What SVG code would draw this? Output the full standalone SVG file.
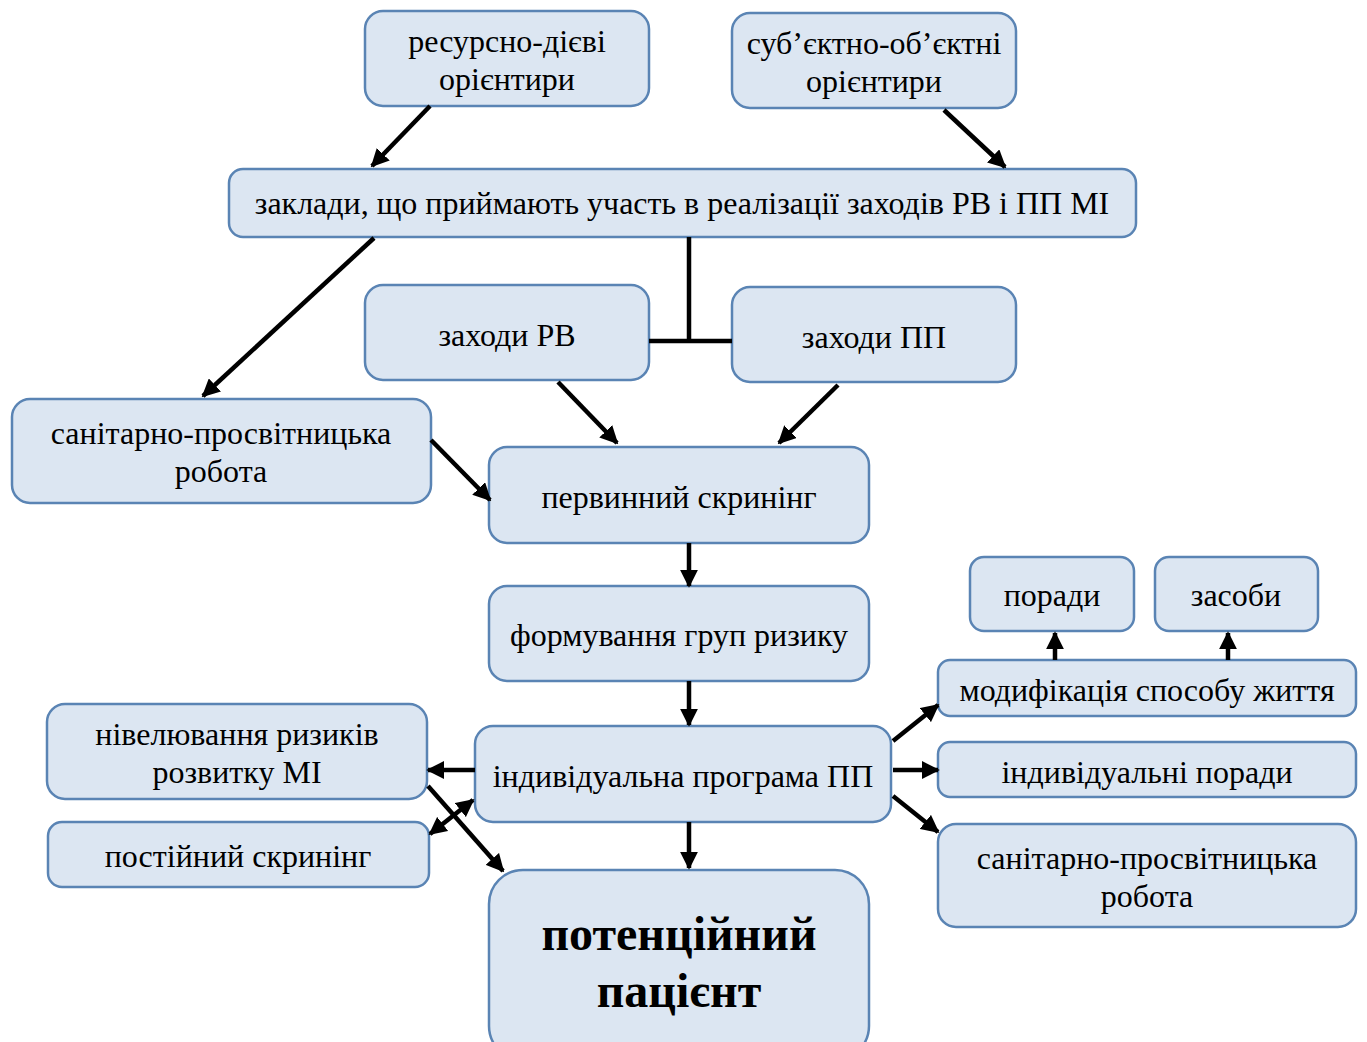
<svg xmlns="http://www.w3.org/2000/svg" width="1367" height="1042" viewBox="0 0 1367 1042">
<style>
.box{fill:#dce6f2;stroke:#5a84b4;stroke-width:2.5}
text{font-family:"Liberation Serif","Times New Roman",serif;font-size:32px;fill:#000;text-anchor:middle}
.big{font-size:48px;font-weight:bold}
.c{stroke:#000;stroke-width:4.5;fill:none}
</style>
<defs>
<marker id="ah" viewBox="0 0 10 10" refX="9" refY="5" markerWidth="4" markerHeight="4" orient="auto-start-reverse" markerUnits="strokeWidth">
<path d="M0,0 L10,5 L0,10 z" fill="#000"/>
</marker>
</defs>
<rect width="1367" height="1042" fill="#fff"/>
<g id="n1"><rect class="box" x="365" y="11" width="284" height="95" rx="18"/><text x="507" y="52">ресурсно-дієві</text><text x="507" y="90">орієнтири</text></g>
<g id="n2"><rect class="box" x="732" y="13" width="284" height="95" rx="18"/><text x="874" y="54">суб’єктно-об’єктні</text><text x="874" y="92">орієнтири</text></g>
<g id="n3"><rect class="box" x="229" y="169" width="907" height="68" rx="14"/><text x="682" y="214">заклади, що приймають участь в реалізації заходів РВ і ПП МІ</text></g>
<g id="n4"><rect class="box" x="365" y="285" width="284" height="95" rx="18"/><text x="507" y="346">заходи РВ</text></g>
<g id="n5"><rect class="box" x="732" y="287" width="284" height="95" rx="18"/><text x="874" y="348">заходи ПП</text></g>
<g id="n6"><rect class="box" x="12" y="399" width="419" height="104" rx="18"/><text x="221" y="444">санітарно-просвітницька</text><text x="221" y="482">робота</text></g>
<g id="n7"><rect class="box" x="489" y="447" width="380" height="96" rx="18"/><text x="679" y="508">первинний скринінг</text></g>
<g id="n8"><rect class="box" x="489" y="586" width="380" height="95" rx="18"/><text x="679" y="646">формування груп ризику</text></g>
<g id="n9"><rect class="box" x="970" y="557" width="164" height="74" rx="14"/><text x="1052" y="606">поради</text></g>
<g id="n10"><rect class="box" x="1155" y="557" width="163" height="74" rx="14"/><text x="1236" y="606">засоби</text></g>
<g id="n11"><rect class="box" x="938" y="660" width="418" height="56" rx="12"/><text x="1147" y="701">модифікація способу життя</text></g>
<g id="n12"><rect class="box" x="475" y="726" width="416" height="96" rx="18"/><text x="683" y="787">індивідуальна програма ПП</text></g>
<g id="n13"><rect class="box" x="47" y="704" width="380" height="95" rx="18"/><text x="237" y="745">нівелювання ризиків</text><text x="237" y="783">розвитку МІ</text></g>
<g id="n14"><rect class="box" x="48" y="822" width="381" height="65" rx="14"/><text x="238" y="867">постійний скринінг</text></g>
<g id="n15"><rect class="box" x="938" y="742" width="418" height="55" rx="12"/><text x="1147" y="783">індивідуальні поради</text></g>
<g id="n16"><rect class="box" x="938" y="824" width="418" height="103" rx="18"/><text x="1147" y="869">санітарно-просвітницька</text><text x="1147" y="907">робота</text></g>
<g id="n17"><rect class="box" x="489" y="870" width="380" height="190" rx="34"/><text class="big" x="679" y="950">потенційний</text><text class="big" x="679" y="1007">пацієнт</text></g>
<g id="connectors">
<line class="c" x1="430" y1="106" x2="372" y2="166" marker-end="url(#ah)"/>
<line class="c" x1="944" y1="110" x2="1005" y2="167" marker-end="url(#ah)"/>
<line class="c" x1="374" y1="238" x2="203" y2="396" marker-end="url(#ah)"/>
<polyline class="c" points="689,237 689,341"/>
<line class="c" x1="649" y1="341" x2="732" y2="341"/>
<line class="c" x1="558" y1="382" x2="617" y2="443" marker-end="url(#ah)"/>
<line class="c" x1="838" y1="385" x2="779" y2="443" marker-end="url(#ah)"/>
<line class="c" x1="431" y1="440" x2="490" y2="500" marker-end="url(#ah)"/>
<line class="c" x1="689" y1="543" x2="689" y2="586" marker-end="url(#ah)"/>
<line class="c" x1="689" y1="681" x2="689" y2="725" marker-end="url(#ah)"/>
<line class="c" x1="475" y1="770" x2="428" y2="770" marker-end="url(#ah)"/>
<line class="c" x1="428" y1="786" x2="503" y2="871" marker-end="url(#ah)"/>
<line class="c" x1="473" y1="800" x2="430" y2="834" marker-start="url(#ah)" marker-end="url(#ah)"/>
<line class="c" x1="689" y1="822" x2="689" y2="868" marker-end="url(#ah)"/>
<line class="c" x1="893" y1="741" x2="938" y2="705" marker-end="url(#ah)"/>
<line class="c" x1="893" y1="770" x2="938" y2="770" marker-end="url(#ah)"/>
<line class="c" x1="893" y1="796" x2="938" y2="832" marker-end="url(#ah)"/>
<line class="c" x1="1055" y1="660" x2="1055" y2="633" marker-end="url(#ah)"/>
<line class="c" x1="1228" y1="660" x2="1228" y2="633" marker-end="url(#ah)"/>
</g>
</svg>
